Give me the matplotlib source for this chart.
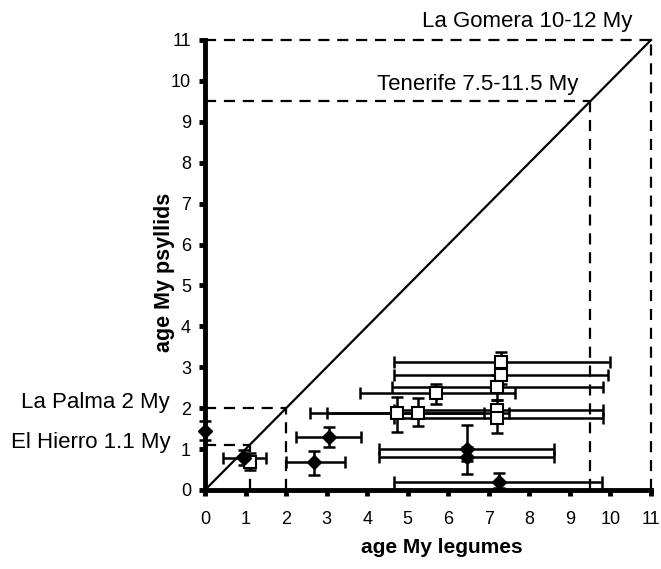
import matplotlib
matplotlib.use("Agg")
import matplotlib.pyplot as plt
import numpy as np

plt.rcParams['font.family'] = ['Liberation Sans', 'DejaVu Sans']

# Filled diamonds
d_x = [0.0, 0.95, 2.7, 3.05, 6.45, 6.45, 7.25]
d_y = [1.45, 0.78, 0.68, 1.3, 1.0, 0.8, 0.2]
d_xlo = [0.0, 0.45, 2.0, 2.25, 4.3, 4.3, 4.65]
d_xhi = [0.0, 1.5, 3.45, 3.85, 8.6, 8.6, 9.8]
d_ylo = [1.22, 0.6, 0.37, 1.05, 0.7, 0.4, 0.05]
d_yhi = [1.68, 0.98, 0.95, 1.55, 1.6, 1.05, 0.42]

# Open squares
s_x = [1.1, 7.3, 7.3, 7.2, 5.7, 4.73, 5.25, 7.2, 7.2]
s_y = [0.68, 3.12, 2.8, 2.52, 2.37, 1.88, 1.88, 1.95, 1.75]
s_xlo = [1.1, 4.65, 4.65, 4.6, 3.82, 2.6, 3.0, 4.65, 4.65]
s_xhi = [1.1, 10.0, 9.95, 9.82, 7.65, 6.88, 7.5, 9.82, 9.82]
s_ylo = [0.5, 2.9, 2.6, 2.2, 2.1, 1.42, 1.56, 1.7, 1.4]
s_yhi = [0.9, 3.37, 3.0, 2.8, 2.6, 2.27, 2.25, 2.2, 2.05]

islands = ["La Gomera 10-12 My", "Tenerife 7.5-11.5 My", "La Palma 2 My", "El Hierro 1.1 My"]
island_age = [11.0, 9.5, 2.0, 1.1]

ticks = list(range(0, 12))

fig = plt.figure(figsize=(6.61, 5.69), dpi=100)
ax = fig.add_axes([205/661, 1 - 490/569, 446/661, 450/569])
ax.set_xlim(0, 11)
ax.set_ylim(0, 11)

# diagonal
ax.plot([0, 11], [0, 11], color='black', lw=1.6, zorder=2, clip_on=False)

# dashed island guides
for a in island_age:
    ax.plot([0, a], [a, a], color='black', lw=1.6, ls=(0, (5, 3.5)), zorder=2, clip_on=False)
    ax.plot([a, a], [0, a], color='black', lw=1.6, ls=(0, (5, 3.5)), zorder=2, clip_on=False)

def errs(v, lo, hi):
    v = np.array(v); lo = np.array(lo); hi = np.array(hi)
    return np.vstack([v - lo, hi - v])

ax.errorbar(d_x, d_y, xerr=errs(d_x, d_xlo, d_xhi), yerr=errs(d_y, d_ylo, d_yhi),
            fmt='none', ecolor='black', elinewidth=1.8, capsize=4, capthick=1.8, zorder=3, clip_on=False)
ax.errorbar(s_x, s_y, xerr=errs(s_x, s_xlo, s_xhi), yerr=errs(s_y, s_ylo, s_yhi),
            fmt='none', ecolor='black', elinewidth=1.8, capsize=4, capthick=1.8, zorder=3, clip_on=False)
ax.plot(s_x, s_y, ls='none', marker='s', ms=8, mfc='white', mec='black', mew=1.5, zorder=4)
ax.plot(d_x, d_y, ls='none', marker='D', ms=7, mfc='black', mec='black', zorder=5, clip_on=False)

for s in ['top', 'right']:
    ax.spines[s].set_visible(False)
for s in ['left', 'bottom']:
    ax.spines[s].set_linewidth(3.5)
    ax.spines[s].set_capstyle('projecting')
ax.set_xticks(ticks)
ax.set_yticks(ticks)
ax.tick_params(axis='both', direction='out', length=4, width=3.5, labelsize=13)
ax.tick_params(axis='x', pad=11)
ax.tick_params(axis='y', pad=6)

ax.set_xlabel('age My legumes', fontsize=15, fontweight='bold', va='center')
ax.set_ylabel('age My psyllids', fontsize=15.5, fontweight='bold', va='center')
ax.xaxis.set_label_coords(0.53, -0.127)
ax.yaxis.set_label_coords(-0.09, 0.484)

ax.text(10.53, 11.44, islands[0], ha='right', va='center', fontsize=16, clip_on=False)
ax.text(9.2, 9.9, islands[1], ha='right', va='center', fontsize=16, clip_on=False)
ax.text(-0.86, 2.15, islands[2], ha='right', va='center', fontsize=16, clip_on=False)
ax.text(-0.86, 1.17, islands[3], ha='right', va='center', fontsize=16, clip_on=False)

fig.savefig('out.png', dpi=100)
